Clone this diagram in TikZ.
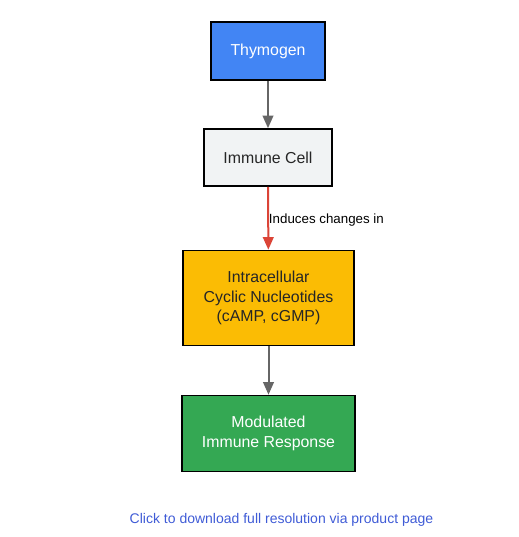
\documentclass[tikz,border=0pt]{standalone}
\usepackage{fontspec}
\setmainfont{Liberation Sans}
\usetikzlibrary{arrows.meta}
\definecolor{gblue}{HTML}{4285F4}
\definecolor{glight}{HTML}{F1F3F4}
\definecolor{gyellow}{HTML}{FBBC04}
\definecolor{ggreen}{HTML}{34A853}
\definecolor{ggray}{HTML}{666666}
\definecolor{gred}{HTML}{DB4437}
\definecolor{linkblue}{HTML}{3F5BD6}
\tikzset{
  box/.style={draw=black, line width=1.2pt, rectangle, inner sep=0pt, align=center, font=\fontsize{11.9pt}{14.6pt}\selectfont},
  conn/.style={line width=1.5pt, -{Triangle[length=9.5pt,width=8pt]}},
}
\begin{document}
\begin{tikzpicture}[x=0.75pt,y=-0.75pt]
\useasboundingbox (0,0) rectangle (519,537);
\node[box, fill=gblue, text=white, minimum width=114*0.75pt, minimum height=58*0.75pt] (thy) at (268,51) {Thymogen};
\node[box, fill=glight, text=black!85, minimum width=128*0.75pt, minimum height=57*0.75pt] (cell) at (268,157.5) {Immune Cell};
\node[box, fill=gyellow, text=black!85, minimum width=171*0.75pt, minimum height=95*0.75pt] (nuc) at (268.5,298) {Intracellular\\Cyclic Nucleotides\\(cAMP, cGMP)};
\node[box, fill=ggreen, text=white, minimum width=173*0.75pt, minimum height=76*0.75pt] (mod) at (268.5,433.5) {Modulated\\Immune Response};
\draw[conn, ggray] (thy) -- (cell);
\draw[conn, gred] (cell) -- node[right, xshift=-3.5pt, yshift=-1.2pt, text=black, font=\fontsize{10pt}{12pt}\selectfont] (lbl) {Induces changes in} (nuc);
\draw[conn, ggray] (nuc) -- (mod);
\node[text=linkblue, font=\fontsize{10.5pt}{12pt}\selectfont] (foot) at (281.5,519.5) {Click to download full resolution via product page};
\end{tikzpicture}
\end{document}
